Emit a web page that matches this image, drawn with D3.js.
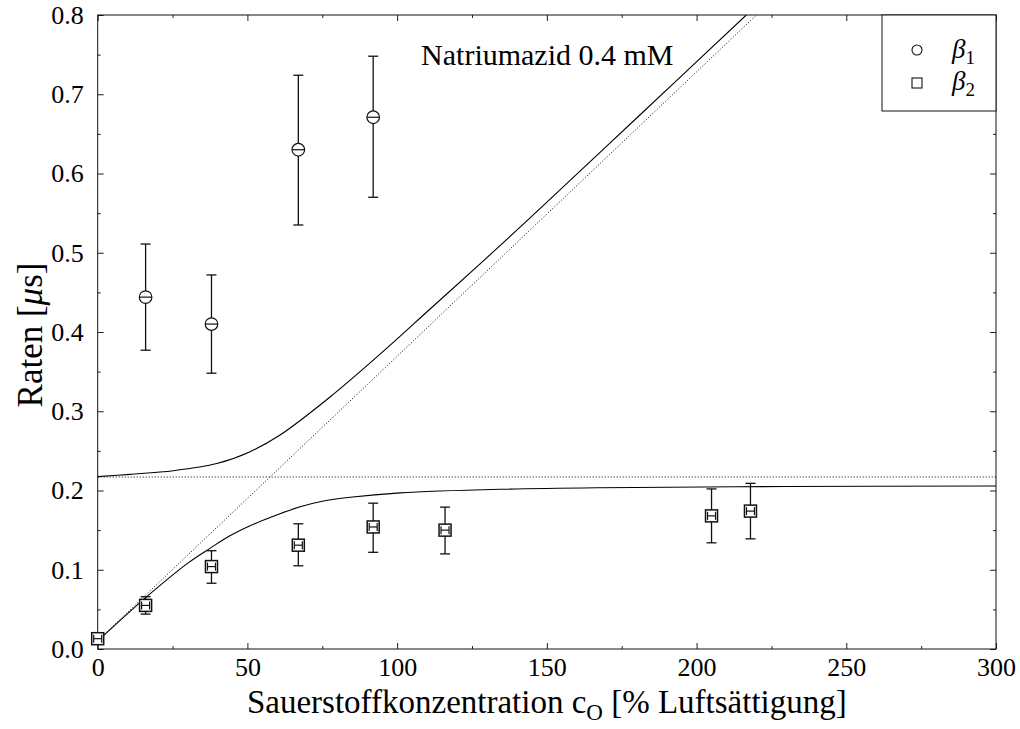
<!DOCTYPE html>
<html>
<head>
<meta charset="utf-8">
<script src="https://cdn.jsdelivr.net/npm/d3@7"></script>
<style>
  body { margin: 0; background: #fff; }
  text { font-family: "Liberation Serif", "Times New Roman", "DejaVu Serif", serif; fill: #000; }
</style>
</head>
<body>
<div id="chart"></div>
<script>
// beta1 measurements (circles)
var beta1X = [16, 38, 67, 92];
var beta1Y = [0.444, 0.410, 0.630, 0.671];
var beta1Lo = [0.377, 0.348, 0.535, 0.570];
var beta1Hi = [0.511, 0.472, 0.724, 0.748];

// beta2 measurements (squares)
var beta2X = [0, 16, 38, 67, 92, 116, 205, 218];
var beta2Y = [0.013, 0.055, 0.104, 0.131, 0.154, 0.150, 0.168, 0.174];
var beta2Lo = [0.009, 0.044, 0.083, 0.105, 0.122, 0.120, 0.134, 0.139];
var beta2Hi = [0.018, 0.066, 0.124, 0.158, 0.184, 0.179, 0.202, 0.209];

// fitted curves
var upperCurve = [[0, 0.2175], [10.8, 0.2204], [25.3, 0.225], [39.8, 0.234], [50.9, 0.249],
  [60.9, 0.270], [77.6, 0.318], [94.3, 0.372], [111, 0.429], [127.7, 0.486],
  [144.4, 0.544], [180, 0.670], [216.6, 0.8]];
var lowerCurve = [[0, 0.010], [16.4, 0.066], [30, 0.108], [37.5, 0.127], [44, 0.1425],
  [50.9, 0.1555], [58, 0.1665], [67.6, 0.1795], [75, 0.1865], [84.3, 0.1915], [101, 0.197],
  [134.4, 0.2015], [167.8, 0.2035], [230, 0.205], [300, 0.2057]];
var diagLine = [[0, 0.0106], [220, 0.8]];
var flatLine = [[0, 0.217], [300, 0.217]];

var xTicks = [0, 50, 100, 150, 200, 250, 300];
var yTicks = [0.0, 0.1, 0.2, 0.3, 0.4, 0.5, 0.6, 0.7, 0.8];

// set the dimensions and margins of the graph
var margin = {top: 15, right: 24, bottom: 80, left: 97.7},
    width = 1020 - margin.left - margin.right,
    height = 729 - margin.top - margin.bottom;

var x = d3.scaleLinear().domain([0, 300]).range([0, width]);
var y = d3.scaleLinear().domain([0, 0.8]).range([height, 0]);

var svg = d3.select("#chart").append("svg")
    .attr("width", 1020)
    .attr("height", 729)
  .append("g")
    .attr("transform", "translate(" + margin.left + "," + margin.top + ")");

svg.append("clipPath").attr("id", "clip")
  .append("rect").attr("width", width).attr("height", height);

// ticks on all four sides, pointing inward
var minorX = d3.range(25, 300, 50);
var minorY = d3.range(0.05, 0.8, 0.1);

svg.append("g")
    .attr("transform", "translate(0," + height + ")")
    .call(d3.axisBottom(x).tickValues(xTicks).tickSize(-6).tickPadding(9).tickFormat(d3.format("d")))
    .call(function(g) { g.select(".domain").remove(); g.selectAll("text").style("font-size", "26px").attr("dy", "0.71em"); });
svg.append("g")
    .attr("transform", "translate(0," + height + ")")
    .call(d3.axisBottom(x).tickValues(minorX).tickSize(-3).tickFormat(""))
    .call(function(g) { g.select(".domain").remove(); });
svg.append("g")
    .call(d3.axisTop(x).tickValues(xTicks).tickSize(-6).tickFormat(""))
    .call(function(g) { g.select(".domain").remove(); });
svg.append("g")
    .call(d3.axisTop(x).tickValues(minorX).tickSize(-3).tickFormat(""))
    .call(function(g) { g.select(".domain").remove(); });

svg.append("g")
    .call(d3.axisLeft(y).tickValues(yTicks).tickSize(-6).tickPadding(14).tickFormat(d3.format(".1f")))
    .call(function(g) { g.select(".domain").remove(); g.selectAll("text").style("font-size", "26px"); });
svg.append("g")
    .call(d3.axisLeft(y).tickValues(minorY).tickSize(-3).tickFormat(""))
    .call(function(g) { g.select(".domain").remove(); });
svg.append("g")
    .attr("transform", "translate(" + width + ",0)")
    .call(d3.axisRight(y).tickValues(yTicks).tickSize(-6).tickFormat(""))
    .call(function(g) { g.select(".domain").remove(); });
svg.append("g")
    .attr("transform", "translate(" + width + ",0)")
    .call(d3.axisRight(y).tickValues(minorY).tickSize(-3).tickFormat(""))
    .call(function(g) { g.select(".domain").remove(); });

svg.selectAll(".tick line").attr("stroke", "#222");

// frame
svg.append("rect")
    .attr("width", width).attr("height", height)
    .attr("fill", "none").attr("stroke", "#111").attr("stroke-width", 1);

// lines
var line = d3.line()
    .curve(d3.curveCatmullRom.alpha(0.5))
    .x(function(d) { return x(d[0]); })
    .y(function(d) { return y(d[1]); });

var lines = svg.append("g").attr("clip-path", "url(#clip)");
[flatLine, diagLine].forEach(function(d) {
  lines.append("path").datum(d).attr("d", line)
    .attr("fill", "none").attr("stroke", "#000").attr("stroke-width", 1)
    .attr("stroke-dasharray", "1,2");
});
[upperCurve, lowerCurve].forEach(function(d) {
  lines.append("path").datum(d).attr("d", line)
    .attr("fill", "none").attr("stroke", "#000").attr("stroke-width", 1.1);
});

// error bars
function errorBars(xs, lo, hi) {
  var g = svg.append("g").attr("stroke", "#111").attr("stroke-width", 1.3);
  xs.forEach(function(c, i) {
    g.append("line").attr("x1", x(c)).attr("x2", x(c)).attr("y1", y(lo[i])).attr("y2", y(hi[i]));
    g.append("line").attr("x1", x(c) - 5).attr("x2", x(c) + 5).attr("y1", y(lo[i])).attr("y2", y(lo[i]));
    g.append("line").attr("x1", x(c) - 5).attr("x2", x(c) + 5).attr("y1", y(hi[i])).attr("y2", y(hi[i]));
  });
}
errorBars(beta1X, beta1Lo, beta1Hi);
errorBars(beta2X, beta2Lo, beta2Hi);

// circles with horizontal bar
beta1X.forEach(function(c, i) {
  var cx = x(c), cy = y(beta1Y[i]);
  svg.append("circle").attr("cx", cx).attr("cy", cy).attr("r", 6.3)
    .attr("fill", "#fff").attr("stroke", "#111").attr("stroke-width", 1.2);
  svg.append("line").attr("x1", cx - 6.3).attr("x2", cx + 6.3).attr("y1", cy).attr("y2", cy)
    .attr("stroke", "#111").attr("stroke-width", 1.2);
});

// squares with H inside
beta2X.forEach(function(c, i) {
  var cx = x(c), cy = y(beta2Y[i]);
  svg.append("rect").attr("x", cx - 6).attr("y", cy - 6).attr("width", 12).attr("height", 12)
    .attr("fill", "#fff").attr("stroke", "#111").attr("stroke-width", 1.5);
  var h = svg.append("g").attr("stroke", "#111").attr("stroke-width", 1.2);
  h.append("line").attr("x1", cx - 4).attr("x2", cx + 4).attr("y1", cy).attr("y2", cy);
  h.append("line").attr("x1", cx - 4).attr("x2", cx - 4).attr("y1", cy - 4).attr("y2", cy + 4);
  h.append("line").attr("x1", cx + 4).attr("x2", cx + 4).attr("y1", cy - 4).attr("y2", cy + 4);
});

// annotation
svg.append("text")
    .attr("x", x(108)).attr("y", 50)
    .style("font-size", "30px")
    .text("Natriumazid 0.4 mM");

// legend
var leg = svg.append("g").attr("transform", "translate(" + (width - 114) + ",0)");
leg.append("rect").attr("width", 114).attr("height", 96)
  .attr("fill", "#fff").attr("stroke", "#111").attr("stroke-width", 1);
leg.append("circle").attr("cx", 35).attr("cy", 35).attr("r", 5)
  .attr("fill", "none").attr("stroke", "#111").attr("stroke-width", 1.1);
leg.append("rect").attr("x", 30).attr("y", 63).attr("width", 10).attr("height", 10)
  .attr("fill", "none").attr("stroke", "#111").attr("stroke-width", 1.1);
["1", "2"].forEach(function(s, i) {
  var t = leg.append("text").attr("x", 70).attr("y", 43 + i * 32).style("font-size", "27px");
  t.append("tspan").style("font-style", "italic").text("\u03b2");
  t.append("tspan").attr("dy", 6).style("font-size", "19px").text(s);
});

// axis labels
var xl = svg.append("text")
    .attr("x", width / 2).attr("y", height + 64)
    .style("text-anchor", "middle")
    .style("font-size", "33px");
xl.append("tspan").text("Sauerstoffkonzentration c");
xl.append("tspan").attr("dy", 7).style("font-size", "23px").text("O");
xl.append("tspan").attr("dy", -7).text(" [% Luftsättigung]");

var yl = svg.append("text")
    .attr("transform", "rotate(-90)")
    .attr("x", -320).attr("y", -56)
    .style("text-anchor", "middle")
    .style("font-size", "35px");
yl.append("tspan").text("Raten [");
yl.append("tspan").style("font-style", "italic").text("\u03bc");
yl.append("tspan").text("s]");
</script>
</body>
</html>
